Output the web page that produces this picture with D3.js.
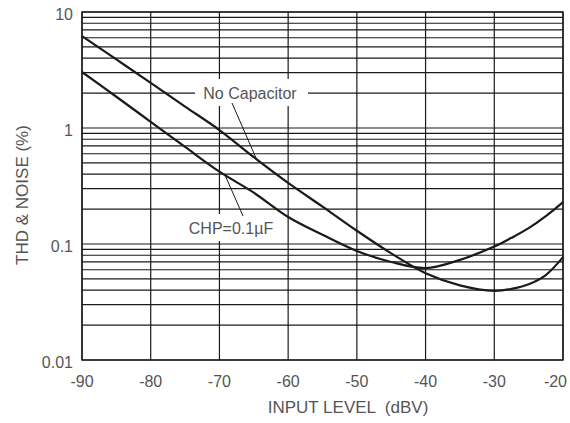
<!DOCTYPE html>
<html>
<head>
<meta charset="utf-8">
<script src="https://cdn.jsdelivr.net/npm/d3@7"></script>
<style>
  body { margin: 0; background: #fff; }
  text { font-family: "Liberation Sans", Arial, Helvetica, sans-serif; fill: #555; }
</style>
</head>
<body>
<div id="chart"></div>
<script>
// input level (dBV) sample points
var inputLevels = [-90, -85, -80, -75, -70, -65, -60, -55, -50, -45, -40, -35, -30, -27.5, -25, -22.5, -20];
var noCapacitor = [6.2, 3.9, 2.45, 1.53, 0.96, 0.56, 0.336, 0.21, 0.13, 0.083, 0.056, 0.044, 0.0395, 0.041, 0.045, 0.054, 0.077];
var chp01uF     = [3.04, 1.86, 1.13, 0.686, 0.42, 0.277, 0.171, 0.12, 0.087, 0.07, 0.062, 0.073, 0.095, 0.113, 0.137, 0.174, 0.23];

var xTicks = [-90, -80, -70, -60, -50, -40, -30, -20];
var yTicks = [0.01, 0.1, 1, 10];
var yTickLabels = ["0.01", "0.1", "1", "10"];

var margin = {top: 12, right: 7, bottom: 63, left: 82},
    svgWidth = 570,
    svgHeight = 423,
    vizWidth = svgWidth - margin.left - margin.right,
    vizHeight = svgHeight - margin.top - margin.bottom;

var x = d3.scaleLinear().domain([-90, -20]).range([0, vizWidth]);
var y = d3.scaleLog().domain([0.01, 10]).range([vizHeight, 0]);

var svg = d3.select("#chart").append("svg")
    .attr("width", svgWidth)
    .attr("height", svgHeight);

var canvas = svg.append("g")
    .attr("transform", "translate(" + margin.left + "," + margin.top + ")");

// minor + major horizontal grid (1..9 per decade)
var hLines = [];
[0.01, 0.1, 1].forEach(function(d) {
  for (var k = 1; k < 10; k++) hLines.push(d * k);
});
hLines.push(10);

canvas.selectAll("line.h").data(hLines)
  .join("line")
    .classed("h", true)
    .attr("x1", 0).attr("x2", vizWidth)
    .attr("y1", function(d) { return y(d); })
    .attr("y2", function(d) { return y(d); })
    .attr("stroke", "#1a1a1a")
    .attr("stroke-width", 1.2);

canvas.selectAll("line.v").data(xTicks)
  .join("line")
    .classed("v", true)
    .attr("x1", function(d) { return x(d); })
    .attr("x2", function(d) { return x(d); })
    .attr("y1", 0).attr("y2", vizHeight)
    .attr("stroke", "#1a1a1a")
    .attr("stroke-width", 1.2);

canvas.append("rect")
    .attr("width", vizWidth).attr("height", vizHeight)
    .attr("fill", "none")
    .attr("stroke", "#1a1a1a")
    .attr("stroke-width", 1.4);

// curves
var line = d3.line()
    .x(function(d) { return x(d[0]); })
    .y(function(d) { return y(d[1]); })
    .curve(d3.curveCatmullRom);

[noCapacitor, chp01uF].forEach(function(series) {
  canvas.append("path")
      .attr("d", line(d3.zip(inputLevels, series)))
      .attr("fill", "none")
      .attr("stroke", "#1a1a1a")
      .attr("stroke-width", 2.2);
});

// labels with white boxes breaking the grid
function callout(label, tx, ty, box, from, to) {
  canvas.append("rect")
      .attr("x", box[0] - margin.left).attr("y", box[1] - margin.top)
      .attr("width", box[2]).attr("height", box[3])
      .attr("fill", "#fff");
  canvas.append("text")
      .attr("x", tx - margin.left).attr("y", ty - margin.top)
      .attr("text-anchor", "middle")
      .style("font-size", "16px")
      .text(label);
  canvas.append("line")
      .attr("x1", from[0] - margin.left).attr("y1", from[1] - margin.top)
      .attr("x2", to[0] - margin.left).attr("y2", to[1] - margin.top)
      .attr("stroke", "#1a1a1a")
      .attr("stroke-width", 1);
}
callout("No Capacitor", 250, 99, [195, 79, 113, 27], [232, 103], [256, 158]);
callout("CHP=0.1\u00b5F", 231, 234, [185, 214, 93, 27], [225, 175], [243, 216]);

// tick labels (last one pulled in so it stays inside the picture)
canvas.selectAll("text.xt").data(xTicks)
  .join("text")
    .classed("xt", true)
    .attr("x", function(d, i) { return i == xTicks.length - 1 ? x(d) + 4 : x(d); })
    .attr("y", vizHeight + 27)
    .attr("text-anchor", function(d, i) { return i == xTicks.length - 1 ? "end" : "middle"; })
    .style("font-size", "16px")
    .text(function(d) { return d; });

canvas.selectAll("text.yt").data(yTicks)
  .join("text")
    .classed("yt", true)
    .attr("x", -9)
    .attr("y", function(d) { return y(d) + 8; })
    .attr("text-anchor", "end")
    .style("font-size", "16px")
    .text(function(d, i) { return yTickLabels[i]; });

// axis titles
svg.append("text")
    .attr("x", 348).attr("y", 413)
    .attr("text-anchor", "middle")
    .style("font-size", "17px")
    .style("white-space", "pre")
    .text("INPUT LEVEL  (dBV)");

svg.append("text")
    .attr("transform", "translate(28,195) rotate(-90)")
    .attr("text-anchor", "middle")
    .style("font-size", "17px")
    .text("THD & NOISE (%)");
</script>
</body>
</html>
